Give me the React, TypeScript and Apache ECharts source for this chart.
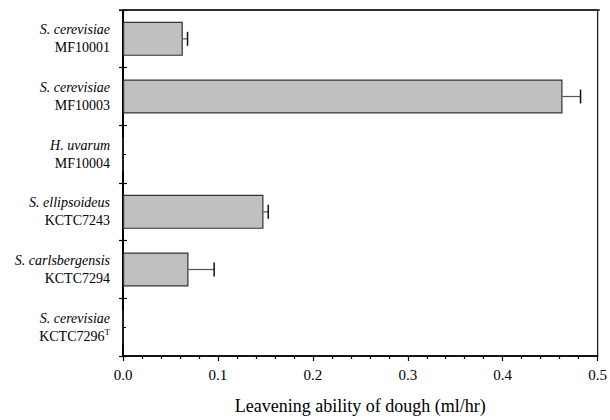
import React, { useEffect, useRef } from "react";
import * as echarts from "echarts";

const species = ["S. cerevisiae", "S. cerevisiae", "H. uvarum", "S. ellipsoideus", "S. carlsbergensis", "S. cerevisiae"];
const strains = ["MF10001", "MF10003", "MF10004", "KCTC7243", "KCTC7294", "KCTC7296"];
const typeStrain = [false, false, false, false, false, true];
const values = [0.063, 0.463, 0, 0.148, 0.069, 0];
const errors = [0.005, 0.019, 0, 0.005, 0.027, 0];
const xTicks = [0, 0.5, 0.1];

const FONT = "Liberation Serif";
const GRID = { left: 123, right: 10, top: 10, bottom: 62 };

export default function App() {
  const ref = useRef<HTMLDivElement>(null);
  useEffect(() => {
    if (!ref.current) return;
    const chart = echarts.init(ref.current, null, { renderer: "svg" });
    const W = 610;
    const catBase = {
      type: "category",
      data: strains,
      inverse: true,
      position: "left",
    };
    chart.setOption({
      animation: false,
      textStyle: { fontFamily: FONT },
      grid: { ...GRID, show: true, borderColor: "#222", borderWidth: 1.3 },
      graphic: [
        {
          type: "line",
          silent: true,
          shape: { x1: GRID.left - 4, y1: GRID.top, x2: W - GRID.right, y2: GRID.top },
          style: { stroke: "#222", lineWidth: 1.3 },
          z: 10,
        },
      ],
      xAxis: [
        {
          type: "value",
          min: xTicks[0],
          max: xTicks[1],
          interval: xTicks[2],
          position: "bottom",
          name: "Leavening ability of dough (ml/hr)",
          nameLocation: "middle",
          nameGap: 41,
          nameTextStyle: { fontFamily: FONT, fontSize: 18, color: "#000" },
          axisLine: { show: true, lineStyle: { color: "#000", width: 1.5 } },
          axisTick: { show: true, inside: false, length: 5, lineStyle: { color: "#000", width: 1.2 } },
          minorTick: { show: true, splitNumber: 5, length: 3, lineStyle: { color: "#000", width: 1.2 } },
          axisLabel: {
            fontFamily: FONT,
            fontSize: 15,
            color: "#000",
            margin: 11,
            formatter: (v: number) => v.toFixed(1),
          },
          splitLine: { show: false },
        },
      ],
      yAxis: [
        {
          ...catBase,
          axisLine: { show: true, lineStyle: { color: "#000", width: 2 } },
          axisTick: { show: true, inside: false, length: 4, lineStyle: { color: "#000", width: 1.2 } },
          axisLabel: {
            fontFamily: FONT,
            color: "#000",
            margin: 13,
            align: "right",
            formatter: (_v: string, i: number) =>
              `{sp|${species[i]}}\n{st|${strains[i]}}` + (typeStrain[i] ? "{sup|T}" : ""),
            rich: {
              sp: { fontFamily: FONT, fontStyle: "italic", fontSize: 14, lineHeight: 18, color: "#000", align: "right" },
              st: { fontFamily: FONT, fontSize: 14, lineHeight: 18, color: "#000", align: "right" },
              sup: { fontFamily: FONT, fontSize: 9, lineHeight: 18, verticalAlign: "top", color: "#000", padding: [0, 0, 10, 0] },
            },
          },
          splitLine: { show: false },
        },
        {
          ...catBase,
          axisLine: { show: false },
          axisTick: { show: true, inside: true, length: 4, lineStyle: { color: "#000", width: 1.2 } },
          axisLabel: { show: false },
          splitLine: { show: false },
        },
        {
          ...catBase,
          axisLine: { show: false },
          axisTick: { show: true, inside: true, alignWithLabel: true, length: 3, lineStyle: { color: "#000", width: 1 } },
          axisLabel: { show: false },
          splitLine: { show: false },
        },
      ],
      series: [
        {
          type: "bar",
          xAxisIndex: 0,
          yAxisIndex: 0,
          data: values,
          barWidth: 34,
          itemStyle: { color: "#c0c0c0", borderColor: "#333", borderWidth: 1.2 },
          silent: true,
        },
        {
          type: "custom",
          xAxisIndex: 0,
          yAxisIndex: 0,
          data: values.map((v, i) => [v, i, errors[i]]),
          encode: { x: 0, y: 1 },
          renderItem: (params: any, api: any) => {
            const v = api.value(0);
            const idx = api.value(1);
            const e = api.value(2);
            if (!e) return null;
            const s = api.coord([v, idx]);
            const t = api.coord([v + e, idx]);
            const half = 7;
            return {
              type: "group",
              children: [
                {
                  type: "line",
                  shape: { x1: s[0], y1: s[1], x2: t[0], y2: t[1] },
                  style: { stroke: "#555", lineWidth: 1.2 },
                },
                {
                  type: "line",
                  shape: { x1: t[0], y1: t[1] - half, x2: t[0], y2: t[1] + half },
                  style: { stroke: "#111", lineWidth: 1.5 },
                },
              ],
            };
          },
          silent: true,
        },
      ],
    });
    return () => chart.dispose();
  }, []);
  return (
    <div
      ref={ref}
      style={{ position: "absolute", left: 0, top: 0, width: 610, height: 420, background: "#fff" }}
    />
  );
}
